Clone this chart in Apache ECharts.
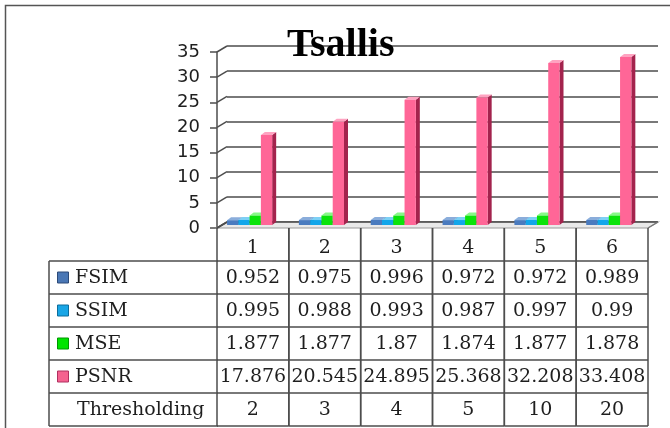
<!DOCTYPE html>
<html>
<head>
<meta charset="utf-8">
<style>
  html, body { margin: 0; padding: 0; background: #fff; }
  #chart { width: 670px; height: 428px; }
</style>
<script src="https://cdn.jsdelivr.net/npm/echarts/dist/echarts.min.js"></script>
</head>
<body>
<div id="chart"></div>
<script>
// ---- data ----
const categories = ['1', '2', '3', '4', '5', '6'];
const thresholding = [2, 3, 4, 5, 10, 20];
const fsim = [0.952, 0.975, 0.996, 0.972, 0.972, 0.989];
const ssim = [0.995, 0.988, 0.993, 0.987, 0.997, 0.99];
const mse = [1.877, 1.877, 1.87, 1.874, 1.877, 1.878];
const psnr = [17.876, 20.545, 24.895, 25.368, 32.208, 33.408];
const metricNames = ['FSIM', 'SSIM', 'MSE', 'PSNR'];
const yTicks = [0, 5, 10, 15, 20, 25, 30, 35];
const chartTitle = 'Tsallis';
const rowLabel = 'Thresholding';

// ---- styles ----
const palette = [
  { front: '#4a7bbf', side: '#2c4d7e', top: '#8aaddb', key: '#4a77b5', keyBorder: '#2c4a78' },
  { front: '#12a6ea', side: '#0a6c9a', top: '#7dd0f5', key: '#19a6e6', keyBorder: '#0d6d9b' },
  { front: '#0be30b', side: '#009a00', top: '#88f888', key: '#00e400', keyBorder: '#009600' },
  { front: '#ff6697', side: '#a3234d', top: '#ffa3c1', key: '#f5618f', keyBorder: '#b03060' }
];
const lineColor = '#4d4d4d';
const textColor = '#1e1e1e';
const tableFont = '19px "DejaVu Serif"';

// ---- geometry ----
const FRONT = { left: 217, right: 22, top: 52, bottom: 200 };
const DEPTH = { dx: 10, dy: -6 };
const BACK = { left: FRONT.left + DEPTH.dx, right: FRONT.right - DEPTH.dx,
               top: FRONT.top + DEPTH.dy, bottom: FRONT.bottom - DEPTH.dy };
const TABLE = { top: 228, rowH: 33, legendLeft: 49 };
const BAR = { shiftY: -3, widthRatio: 0.157, startRatio: 0.36, dx: 4, dy: -3 };

const chart = echarts.init(document.getElementById('chart'), null, { renderer: 'canvas' });

function barSeries(mIdx, values) {
  const c = palette[mIdx];
  return {
    name: metricNames[mIdx],
    type: 'custom',
    xAxisIndex: 0, yAxisIndex: 0,
    z: 4 + mIdx,
    clip: false,
    data: values.map((v, i) => [i, v]),
    renderItem(params, api) {
      const i = api.value(0);
      const base = api.coord([i, 0]);
      const top = api.coord([i, api.value(1)]);
      const bandW = api.size([1, 0])[0];
      const bw = bandW * BAR.widthRatio;
      const xl = base[0] - bandW * BAR.startRatio + mIdx * bw;
      const xr = xl + bw;
      const yb = base[1] + BAR.shiftY;
      const yt = top[1] + BAR.shiftY;
      return {
        type: 'group',
        children: [
          { type: 'polygon', shape: { points: [[xr, yb], [xr, yt], [xr + BAR.dx, yt + BAR.dy], [xr + BAR.dx, yb + BAR.dy]] },
            style: { fill: c.side } },
          { type: 'polygon', shape: { points: [[xl, yt], [xr, yt], [xr + BAR.dx, yt + BAR.dy], [xl + BAR.dx, yt + BAR.dy]] },
            style: { fill: c.top } },
          { type: 'rect', shape: { x: xl, y: yt, width: bw, height: yb - yt },
            style: { fill: c.front } }
        ]
      };
    }
  };
}

// side-wall diagonals from the front ticks to the back grid lines
const wallSeries = {
  type: 'custom', xAxisIndex: 0, yAxisIndex: 0, z: 2, clip: false, silent: true,
  data: yTicks.map(v => [0, v]),
  renderItem(params, api) {
    const cs = params.coordSys;
    const p = api.coord([0, api.value(1)]);
    return {
      type: 'line',
      shape: { x1: cs.x, y1: p[1], x2: cs.x + DEPTH.dx, y2: p[1] + DEPTH.dy },
      style: { stroke: lineColor, lineWidth: 1.5 }
    };
  }
};

// floor slab under the columns
const floorSeries = {
  type: 'custom', xAxisIndex: 0, yAxisIndex: 0, z: 1, clip: false, silent: true,
  data: [[0, 0]],
  renderItem(params, api) {
    const cs = params.coordSys;
    const y0 = api.coord([0, 0])[1];
    const xL = cs.x, xR = cs.x + cs.width;
    return {
      type: 'group',
      children: [
        { type: 'polygon',
          shape: { points: [[xL, y0], [xR, y0], [xR + DEPTH.dx, y0 + DEPTH.dy], [xL + DEPTH.dx, y0 + DEPTH.dy]] },
          style: { fill: '#e9e9e9', stroke: '#9a9a9a', lineWidth: 1.2 } },
        { type: 'line', shape: { x1: xL + DEPTH.dx, y1: y0 + DEPTH.dy, x2: xR + DEPTH.dx, y2: y0 + DEPTH.dy },
          style: { stroke: lineColor, lineWidth: 1.5 } },
        { type: 'line', shape: { x1: xL, y1: y0, x2: xL + DEPTH.dx, y2: y0 + DEPTH.dy },
          style: { stroke: lineColor, lineWidth: 1.5 } },
        { type: 'line', shape: { x1: xR, y1: y0, x2: xR + DEPTH.dx, y2: y0 + DEPTH.dy },
          style: { stroke: '#777', lineWidth: 1.2 } }
      ]
    };
  }
};

// data table columns, one per category
const tableSeries = {
  type: 'custom', xAxisIndex: 0, yAxisIndex: 0, z: 3, clip: false, silent: true,
  data: categories.map((c, i) => [i, fsim[i], ssim[i], mse[i], psnr[i], thresholding[i]]),
  renderItem(params, api) {
    const i = api.value(0);
    const cx = api.coord([i, 0])[0];
    const bandW = api.size([1, 0])[0];
    const x0 = cx - bandW / 2;
    const children = [];
    const texts = [categories[i], String(api.value(1)), String(api.value(2)),
                   String(api.value(3)), String(api.value(4)), String(api.value(5))];
    const nRows = texts.length;
    const bottom = TABLE.top + TABLE.rowH * nRows;
    children.push({ type: 'line', shape: { x1: x0, y1: TABLE.top, x2: x0, y2: bottom },
                    style: { stroke: lineColor, lineWidth: 1.5 } });
    children.push({ type: 'line', shape: { x1: x0 + bandW, y1: TABLE.top, x2: x0 + bandW, y2: bottom },
                    style: { stroke: lineColor, lineWidth: 1.5 } });
    for (let r = 0; r < nRows; r++) {
      const yTop = TABLE.top + TABLE.rowH * r;
      if (r > 0) {
        children.push({ type: 'line', shape: { x1: x0, y1: yTop, x2: x0 + bandW, y2: yTop },
                        style: { stroke: lineColor, lineWidth: 1.5 } });
      }
      children.push({
        type: 'text', x: cx, y: yTop + TABLE.rowH / 2 + (r === 0 ? 3.5 : 0.5),
        style: { text: texts[r], font: tableFont, fill: textColor, align: 'center', verticalAlign: 'middle' }
      });
    }
    children.push({ type: 'line', shape: { x1: x0, y1: bottom, x2: x0 + bandW, y2: bottom },
                    style: { stroke: lineColor, lineWidth: 1.5 } });
    return { type: 'group', children };
  }
};

// legend column of the table, plus the outer frame
function legendGraphics() {
  const els = [];
  const right = FRONT.left + 1;
  const labels = metricNames.concat([rowLabel]);
  const y0 = TABLE.top + TABLE.rowH;
  const y1 = y0 + TABLE.rowH * labels.length;
  els.push({ type: 'line', shape: { x1: TABLE.legendLeft, y1: y0, x2: TABLE.legendLeft, y2: y1 },
             style: { stroke: lineColor, lineWidth: 1.5 }, z: 3 });
  labels.forEach((lab, r) => {
    const yTop = y0 + TABLE.rowH * r;
    els.push({ type: 'line', shape: { x1: TABLE.legendLeft, y1: yTop, x2: right, y2: yTop },
               style: { stroke: lineColor, lineWidth: 1.5 }, z: 3 });
    const cy = yTop + TABLE.rowH / 2;
    if (r < metricNames.length) {
      els.push({ type: 'rect', shape: { x: 57.5, y: cy - 5.5, width: 11, height: 11 },
                 style: { fill: palette[r].key, stroke: palette[r].keyBorder, lineWidth: 1 }, z: 3 });
    }
    els.push({ type: 'text', x: r < metricNames.length ? 75 : 77, y: cy + 0.5,
               style: { text: lab, font: tableFont, fill: textColor, align: 'left', verticalAlign: 'middle' }, z: 3 });
  });
  els.push({ type: 'line', shape: { x1: TABLE.legendLeft, y1: y1, x2: right, y2: y1 },
             style: { stroke: lineColor, lineWidth: 1.5 }, z: 3 });
  els.push({ type: 'rect', shape: { x: 5.5, y: 5.5, width: 720, height: 460 },
             style: { fill: 'none', stroke: '#555', lineWidth: 1.5 }, z: 0 });
  return els;
}

const hiddenAxis = { axisLine: { show: false }, axisTick: { show: false }, axisLabel: { show: false }, splitLine: { show: false } };

chart.setOption({
  animation: false,
  backgroundColor: '#ffffff',
  title: {
    text: chartTitle, left: 282, top: 21,
    textStyle: { fontFamily: '"Liberation Serif"', fontWeight: 'bold', fontSize: 40, color: '#000' },
    z: 20
  },
  grid: [
    { left: FRONT.left, right: FRONT.right, top: FRONT.top, bottom: FRONT.bottom },
    { left: BACK.left, right: BACK.right, top: BACK.top, bottom: BACK.bottom }
  ],
  xAxis: [
    Object.assign({ gridIndex: 0, type: 'category', data: categories }, hiddenAxis),
    Object.assign({ gridIndex: 1, type: 'category', data: categories }, hiddenAxis)
  ],
  yAxis: [
    {
      gridIndex: 0, type: 'value', min: 0, max: 35, interval: 5,
      axisLine: { show: true, lineStyle: { color: lineColor, width: 1.5 } },
      axisTick: { show: true, length: 7, lineStyle: { color: lineColor, width: 1.5 } },
      axisLabel: { margin: 17, fontFamily: '"DejaVu Sans"', fontSize: 18, color: textColor },
      splitLine: { show: false }
    },
    {
      gridIndex: 1, type: 'value', min: 0, max: 35, interval: 5,
      axisLine: { show: false }, axisTick: { show: false }, axisLabel: { show: false },
      splitLine: { show: true, lineStyle: { color: lineColor, width: 1.5 } }
    }
  ],
  graphic: legendGraphics(),
  series: [
    floorSeries,
    wallSeries,
    barSeries(0, fsim),
    barSeries(1, ssim),
    barSeries(2, mse),
    barSeries(3, psnr),
    tableSeries
  ]
});
</script>
</body>
</html>
